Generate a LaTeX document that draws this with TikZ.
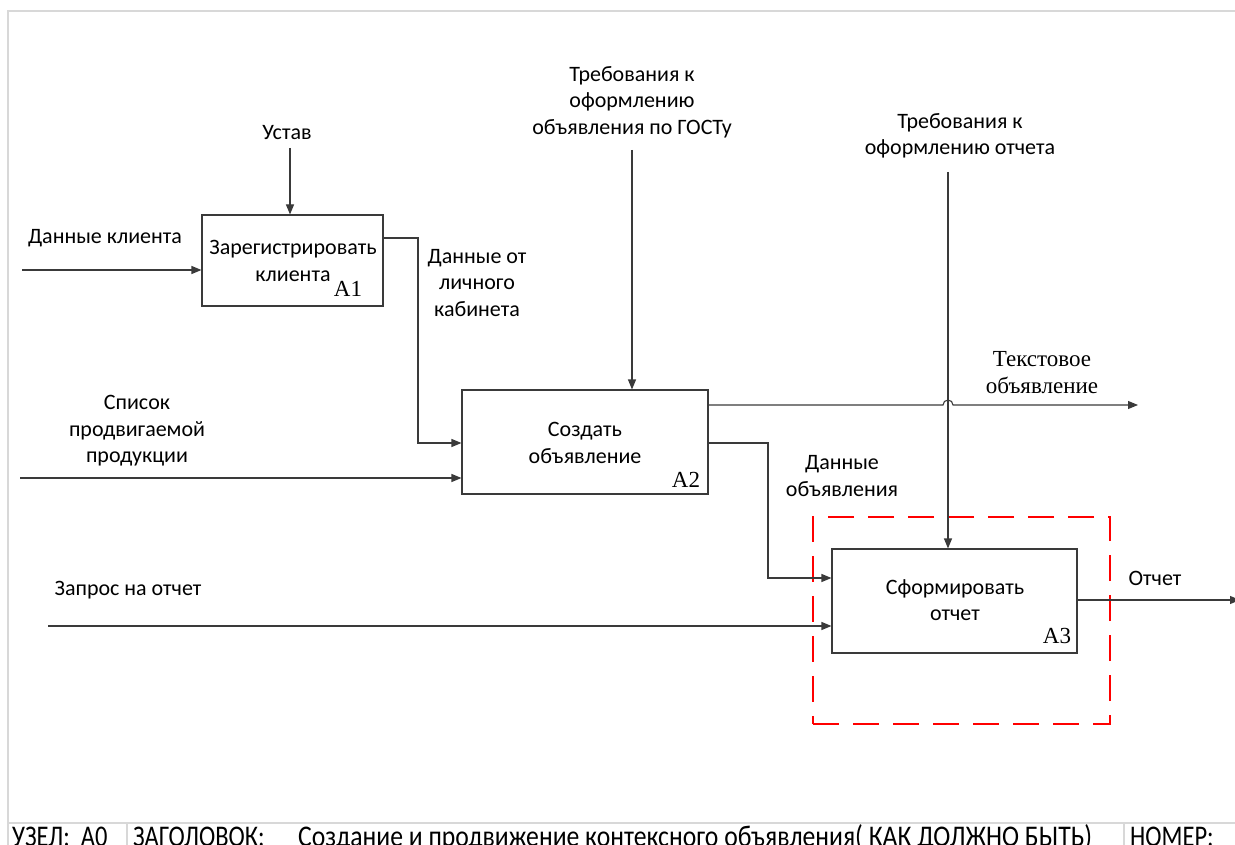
\documentclass[tikz,border=0pt]{standalone}
\usepackage{fontspec}
\setmainfont{Carlito}
\newfontfamily\serifrm{Liberation Serif}
\usetikzlibrary{arrows.meta}
\definecolor{lineclr}{HTML}{3A3A3A}
\definecolor{frameclr}{HTML}{D8D8D8}
\begin{document}
\begin{tikzpicture}[x=1pt,y=-1pt,
  lbl/.style={font=\fontsize{22}{26.5}\selectfont, align=center, inner sep=0pt},
  serlbl/.style={font=\serifrm\fontsize{23}{27}\selectfont, align=center, inner sep=0pt},
  func/.style={draw=lineclr, line width=1.1pt, fill=white, minimum width=#1, inner sep=0pt},
  fnum/.style={font=\serifrm\fontsize{23}{23}\selectfont, inner sep=0pt},
  conn/.style={draw=lineclr, line width=1.1pt},
  arr/.style={conn, -{Triangle[length=10pt,width=8pt]}},
  frame/.style={draw=frameclr, line width=1.2pt},
  title/.style={font=\fontsize{24}{24}\selectfont, inner sep=0pt, anchor=base west},
  selbox/.style={draw=red, line width=2pt, dash pattern=on 26pt off 14pt}
]
\useasboundingbox (0,0) rectangle (1235,845);
\begin{scope}
\clip (0,0) rectangle (1235,845);

% outer sheet frame and title strip
\draw[frame] (8,845) -- (8,11) -- (1240,11);
\draw[frame] (8,823) -- (1240,823);
\draw[frame] (127,823) -- (127,850);
\draw[frame] (1124,823) -- (1124,850);
\node[title] (uzel) at (12,846) {\scalebox{1.02}[1.25]{УЗЕЛ:\ \ А0}};
\node[title] (zag) at (133,846) {\scalebox{1.02}[1.25]{ЗАГОЛОВОК:}};
\node[title] (ttl) at (298,846) {\scalebox{1.07}[1.25]{Создание и продвижение контексного объявления( КАК ДОЛЖНО БЫТЬ)}};
\node[title] (nom) at (1130,846) {\scalebox{1.02}[1.25]{НОМЕР:}};

% function boxes
\node[func, minimum width=181pt, minimum height=91pt] (a1) at (292.5,260.5) {};
\node[lbl] (a1t) at (293,261) {Зарегистрировать\\клиента};
\node[fnum] (a1n) at (348,289) {A1};

\node[func, minimum width=246pt, minimum height=104pt] (a2) at (585,442) {};
\node[lbl] (a2t) at (585,443) {Создать\\объявление};
\node[fnum] (a2n) at (686,480) {A2};

\node[func, minimum width=245pt, minimum height=104pt] (a3) at (954.5,601) {};
\node[lbl] (a3t) at (955,600) {Сформировать\\отчет};
\node[fnum] (a3n) at (1057,636) {A3};

% highlighted area around A3
\node[selbox, minimum width=297pt, minimum height=207pt] (sel) at (961.5,620.5) {};

% free ends of the boundary arrows
\coordinate (ustavS) at (290,148);
\coordinate (klientS) at (22,270);
\coordinate (spisokS) at (20,478);
\coordinate (gostS) at (632,150);
\coordinate (otchS) at (948,172);
\coordinate (zaprosS) at (48,626);
\coordinate (textE) at (1138,405);
\coordinate (otchetE) at (1240,600);

% labels
\node[lbl] (ustav) at (287,133) {Устав};
\node[lbl] (klient) at (105,238) {Данные клиента};
\node[lbl] (lk) at (477,283) {Данные от\\личного\\кабинета};
\node[lbl] (spisok) at (137,431) {Список\\продвигаемой\\продукции};
\node[lbl] (gost) at (632,102) {Требования к\\оформлению\\объявления по ГОСТу};
\node[lbl] (treb) at (960,136) {Требования к\\оформлению отчета};
\node[serlbl] (tekst) at (1042,373) {Текстовое\\объявление};
\node[lbl] (dobj) at (842,476) {Данные\\объявления};
\node[lbl] (zapros) at (128,590) {Запрос на отчет};
\node[lbl] (otchet) at (1155,578) {Отчет};

% connectors
\draw[arr] (ustavS) -- (ustavS |- a1.north);
\draw[arr] (klientS) -- (klientS -| a1.west);
\draw[arr] (a1.east |- 0,238) -- (418,238) -- (418,443) -- (a2.west |- 0,443);
\draw[arr] (spisokS) -- (spisokS -| a2.west);
\draw[arr] (gostS) -- (gostS |- a2.north);
\draw[arr] (otchS) -- (otchS |- a3.north);
\draw[arr] (a2.east |- 0,405) -- (943,405) arc[start angle=180, end angle=0, radius=5pt] -- (textE);
\draw[arr] (a2.east |- 0,443) -- (768,443) -- (768,578) -- (a3.west |- 0,578);
\draw[arr] (zaprosS) -- (zaprosS -| a3.west);
\draw[arr] (a3.east |- 0,600) -- (otchetE);
\end{scope}
\end{tikzpicture}
\end{document}
